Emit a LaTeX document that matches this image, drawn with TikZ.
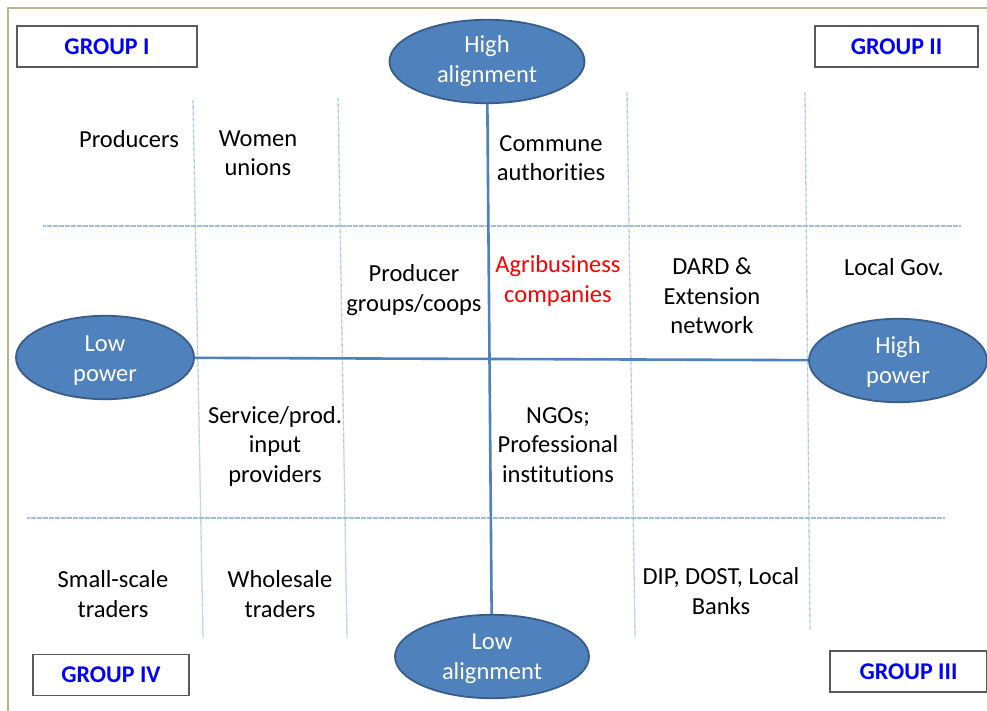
\documentclass[tikz,border=0pt]{standalone}
\usepackage{fontspec}
\setmainfont{Carlito}[Ligatures=NoCommon]
\usetikzlibrary{shapes.geometric}
\definecolor{axisblue}{RGB}{79,129,189}
\definecolor{edgeblue}{RGB}{56,93,138}
\definecolor{gridblue}{RGB}{160,188,222}
\definecolor{framecol}{RGB}{190,180,140}
\definecolor{grpblue}{RGB}{0,0,255}
\definecolor{boxgray}{RGB}{90,90,90}
\newcommand{\ovtext}[3]{\raisebox{#1}[\height][\depth]{\begin{tabular}{@{}c@{}}#2\\#3\end{tabular}}}
\tikzset{
  txt/.style={align=center, inner sep=0pt, font=\fontsize{24.5}{29.5}\selectfont},
  grp/.style={draw=boxgray, line width=1.3pt, inner sep=0pt, text=grpblue,
    font=\fontsize{24}{29}\selectfont\bfseries},
  oval/.style={ellipse, draw=edgeblue, line width=1.8pt, fill=axisblue, text=white,
    inner sep=0pt, font=\fontsize{24.5}{29.5}\selectfont},
  axis/.style={draw=axisblue, line width=2.6pt},
  gridline/.style={draw=gridblue, line width=1.3pt, dash pattern=on 0.6pt off 0.6pt}
}
\begin{document}
\begin{tikzpicture}[x=1pt,y=-1pt]
\useasboundingbox[fill=white] (0,0) rectangle (987,711);
% frame
\draw[framecol, line width=1.6pt] (8,711) -- (8,8) -- (987,8);
% dotted grid
\draw[gridline] (43,226) -- (961,226);
\draw[gridline] (27,518) -- (944,518);
\draw[gridline] (193,100) -- (203,638);
\draw[gridline] (338,98) -- (347,638);
\draw[gridline] (627,92) -- (635,637);
\draw[gridline] (805,92) -- (810,630);
% group boxes
\node[grp, minimum width=180pt, minimum height=41pt] (g1) at (107,46.5) {GROUP I};
\node[grp, minimum width=163pt, minimum height=41pt] (g2) at (896.5,46.5) {GROUP II};
\node[grp, minimum width=156pt, minimum height=41pt] (g4) at (111,675) {GROUP IV};
\node[grp, minimum width=157pt, minimum height=41pt] (g3) at (908.5,671.5) {GROUP III};
% ellipses
\node[oval, minimum width=195pt, minimum height=77pt] (ha) at (487,61.5) {\ovtext{0pt}{High}{alignment}};
\node[oval, minimum width=194pt, minimum height=76pt] (la) at (492,656.5) {\ovtext{-2pt}{Low}{alignment}};
\node[oval, minimum width=178pt, minimum height=78pt] (lp) at (105,357.5) {\ovtext{-3pt}{Low}{power}};
\node[oval, minimum width=178pt, minimum height=74pt] (hp) at (898,360.5) {\ovtext{-2pt}{High}{power}};
% axes
\draw[axis] (ha) -- (la);
\draw[axis] (lp) -- (hp);
% texts
\node[txt] (prod) at (129,139) {Producers};
\node[txt] (women) at (258,153) {Women\\unions};
\node[txt] (commune) at (551,158) {Commune\\authorities};
\node[txt] (pgc) at (414,290) {Producer\\groups/coops};
\node[txt, text=red] (agri) at (558,281) {Agribusiness\\companies};
\node[txt] (dard) at (712,296) {DARD \&\\Extension\\network};
\node[txt] (lgov) at (894,267) {Local Gov.};
\node[txt] (serv) at (275,446) {Service/prod.\\input\\providers};
\node[txt] (ngo) at (558,445) {NGOs;\\Professional\\institutions};
\node[txt] (small) at (113,594) {Small-scale\\traders};
\node[txt] (whole) at (280,594) {Wholesale\\traders};
\node[txt] (dip) at (721,591) {DIP, DOST, Local\\Banks};
\end{tikzpicture}
\end{document}
